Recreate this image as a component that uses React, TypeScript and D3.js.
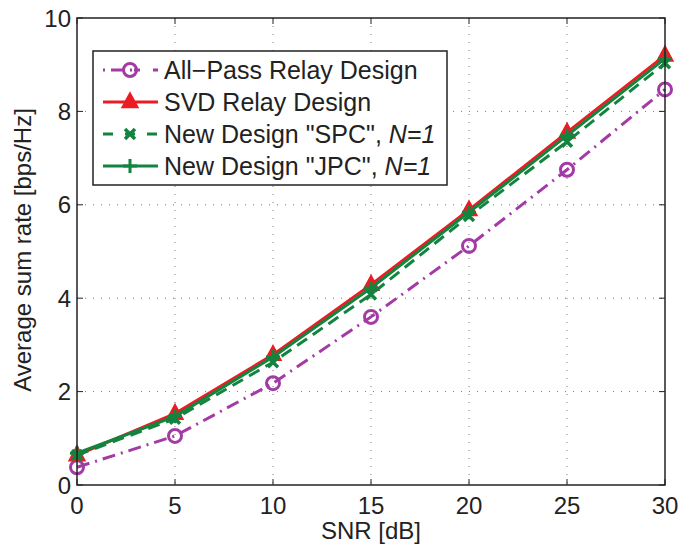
import React from "react";
import * as d3 from "d3";

const snr = [0, 5, 10, 15, 20, 25, 30];
const allPass = [0.38, 1.05, 2.18, 3.6, 5.12, 6.75, 8.47];
const svd = [0.64, 1.53, 2.79, 4.29, 5.89, 7.55, 9.2];
const spc = [0.64, 1.42, 2.63, 4.08, 5.76, 7.35, 9.03];
const jpc = [0.68, 1.47, 2.74, 4.22, 5.84, 7.48, 9.13];
const xTicks = [0, 5, 10, 15, 20, 25, 30];
const yTicks = [0, 2, 4, 6, 8, 10];
const legendLabels = ["All\u2212Pass Relay Design", "SVD Relay Design", 'New Design "SPC", ', 'New Design "JPC", '];

const W = 679, H = 548;
const L = 77, R = 665, T = 18, B = 485;
const FONT = "'Liberation Sans', Arial, Helvetica, sans-serif";

const PURPLE = "#a23ba5";
const RED = "#ec1c24";
const GREEN = "#13843f";

type Kind = "circle" | "triangle" | "x" | "plus";

function Marker({ kind, x, y, color }: { kind: Kind; x: number; y: number; color: string }) {
  if (kind === "circle") return <circle cx={x} cy={y} r={6.5} fill="none" stroke={color} strokeWidth={3} />;
  if (kind === "triangle") {
    const s = 8;
    return <path d={`M${x},${y - s * 1.15} L${x + s},${y + s * 0.7} L${x - s},${y + s * 0.7} Z`} fill={color} stroke={color} strokeWidth={1.5} />;
  }
  if (kind === "x") {
    const s = 5;
    return <path d={`M${x - s},${y - s} L${x + s},${y + s} M${x - s},${y + s} L${x + s},${y - s}`} stroke={color} strokeWidth={3.5} />;
  }
  const s = 7;
  return <path d={`M${x - s},${y} L${x + s},${y} M${x},${y - s} L${x},${y + s}`} stroke={color} strokeWidth={3} />;
}

export default function App() {
  const x = d3.scaleLinear().domain([0, 30]).range([L, R]);
  const y = d3.scaleLinear().domain([0, 10]).range([B, T]);
  const line = d3.line<number>().x((_, i) => x(snr[i])).y((d) => y(d));

  const series = [
    { data: allPass, color: PURPLE, dash: "13,6,2,6", kind: "circle" as Kind },
    { data: svd, color: RED, dash: "", kind: "triangle" as Kind },
    { data: spc, color: GREEN, dash: "12,7", kind: "x" as Kind },
    { data: jpc, color: GREEN, dash: "", kind: "plus" as Kind },
  ];
  const legendSeries = series;

  const lgX = 93, lgY = 51, lgW = 354, lgH = 134;
  const rowY = [70, 102, 134, 166];

  return (
    <svg width={W} height={H} style={{ position: "absolute", left: 0, top: 0, background: "#fff" }} fontFamily={FONT}>
      <rect x={0} y={0} width={W} height={H} fill="#fff" />
      {/* grid */}
      {xTicks.slice(1, -1).map((t) => (
        <line key={"gx" + t} x1={x(t)} x2={x(t)} y1={T} y2={B} stroke="#777" strokeWidth={1} strokeDasharray="1,7" />
      ))}
      {yTicks.slice(1, -1).map((t) => (
        <line key={"gy" + t} x1={L} x2={R} y1={y(t)} y2={y(t)} stroke="#777" strokeWidth={1} strokeDasharray="1,7" />
      ))}
      {/* ticks */}
      {xTicks.map((t) => (
        <g key={"tx" + t}>
          <line x1={x(t)} x2={x(t)} y1={B} y2={B - 6} stroke="#222" strokeWidth={1} />
          <line x1={x(t)} x2={x(t)} y1={T} y2={T + 6} stroke="#222" strokeWidth={1} />
          <text x={x(t)} y={514} textAnchor="middle" fontSize={24} fill="#222">{t}</text>
        </g>
      ))}
      {yTicks.map((t) => (
        <g key={"ty" + t}>
          <line x1={L} x2={L + 6} y1={y(t)} y2={y(t)} stroke="#222" strokeWidth={1} />
          <line x1={R} x2={R - 6} y1={y(t)} y2={y(t)} stroke="#222" strokeWidth={1} />
          <text x={71} y={y(t) + 8.5} textAnchor="end" fontSize={24} fill="#222">{t}</text>
        </g>
      ))}
      {/* series */}
      {series.map((s, k) => (
        <g key={"s" + k}>
          <path d={line(s.data) || ""} fill="none" stroke={s.color} strokeWidth={3} strokeDasharray={s.dash || undefined} />
          {s.data.map((v, i) => (
            <Marker key={i} kind={s.kind} x={x(snr[i])} y={y(v)} color={s.color} />
          ))}
        </g>
      ))}
      {/* axes box */}
      <rect x={L} y={T} width={R - L} height={B - T} fill="none" stroke="#222" strokeWidth={1.5} />
      {/* legend */}
      <rect x={lgX} y={lgY} width={lgW} height={lgH} fill="#fff" stroke="#222" strokeWidth={1.5} />
      {legendSeries.map((s, k) => (
        <g key={"lg" + k}>
          <line x1={103} x2={158} y1={rowY[k]} y2={rowY[k]} stroke={s.color} strokeWidth={3} strokeDasharray={s.dash ? (k === 0 ? "2,6,13,6,2" : "10,12") : undefined} />
          <Marker kind={s.kind} x={130} y={rowY[k]} color={s.color} />
          <text x={164} y={rowY[k] + 9} fontSize={25} fill="#222">
            {legendLabels[k]}
            {k >= 2 ? <tspan fontStyle="italic">N=1</tspan> : null}
          </text>
        </g>
      ))}
      {/* axis labels */}
      <text x={(L + R) / 2} y={539} textAnchor="middle" fontSize={24} fill="#222">SNR [dB]</text>
      <text transform={`translate(31,250) rotate(-90)`} textAnchor="middle" fontSize={24} fill="#222">Average sum rate [bps/Hz]</text>
    </svg>
  );
}
